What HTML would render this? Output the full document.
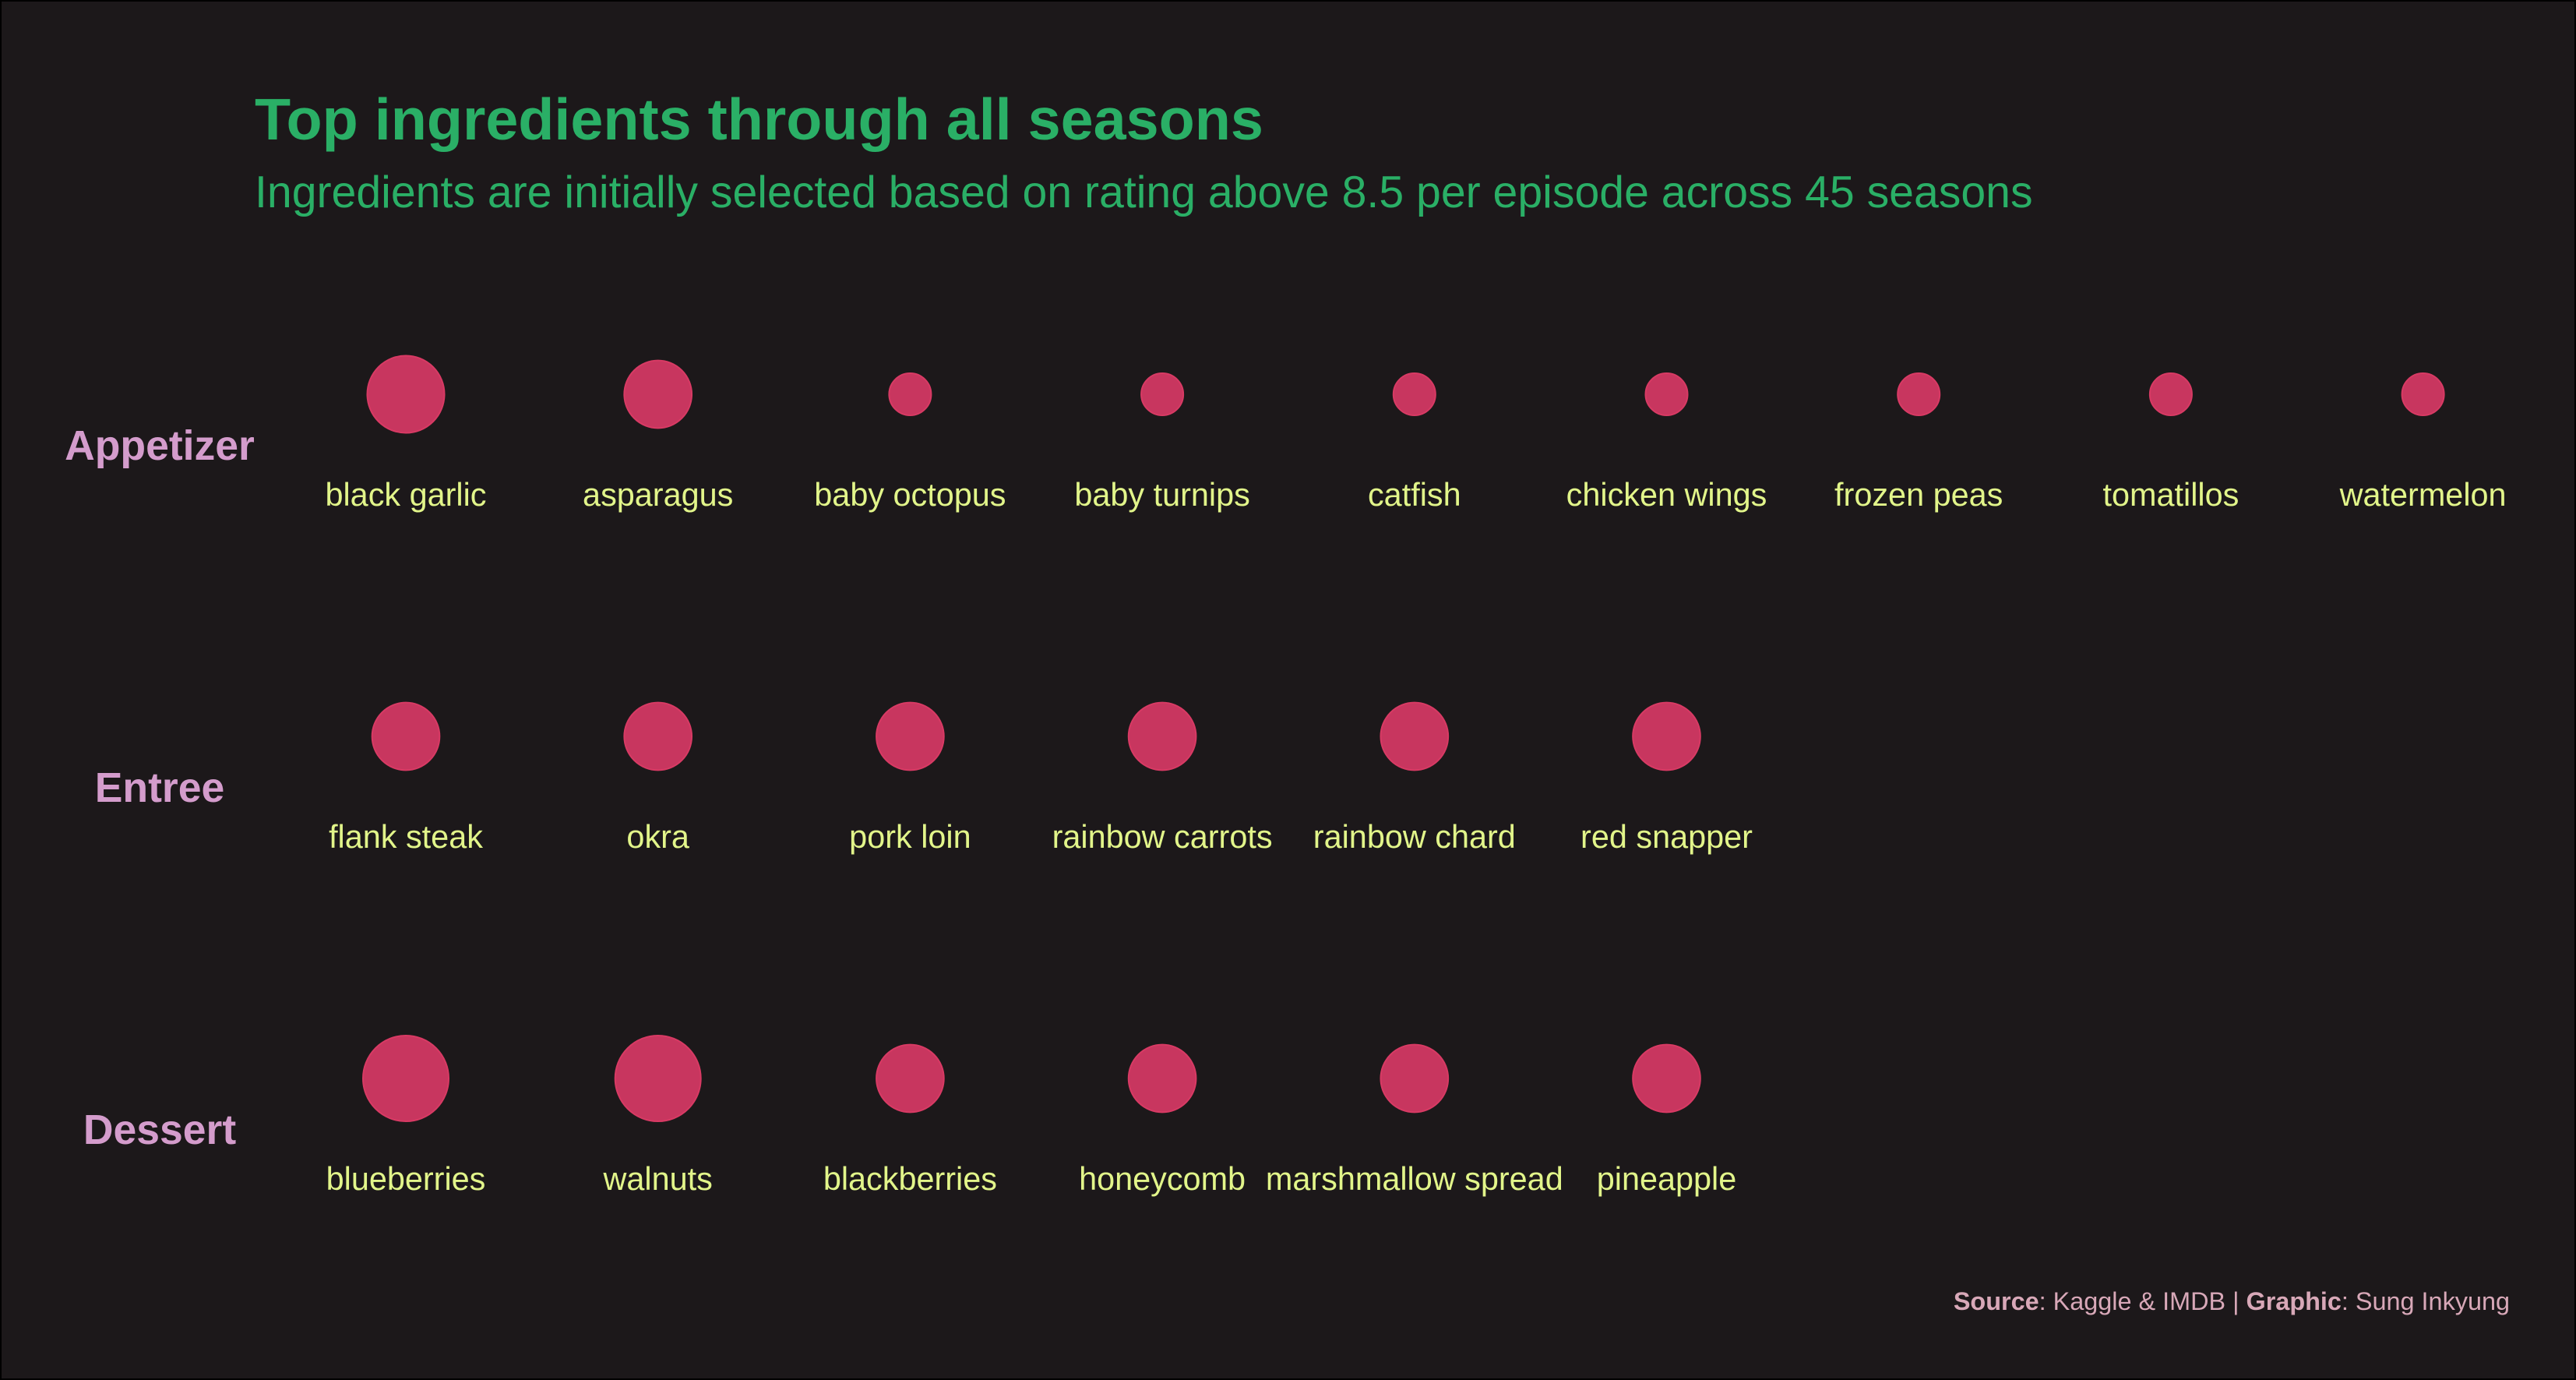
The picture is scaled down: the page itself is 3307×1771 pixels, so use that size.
<!DOCTYPE html>
<html><head><meta charset="utf-8"><style>
html,body{margin:0;padding:0;background:#1c181a;}
svg{display:block;}
text{font-family:"Liberation Sans",Arial,sans-serif;}
</style></head><body>
<svg id="chart" width="3307" height="1771" viewBox="0 0 3307 1771" xmlns="http://www.w3.org/2000/svg">
<rect x="1" y="1" width="3305" height="1769" fill="#1c181a" stroke="#000" stroke-width="2"/>
<text x="327" y="179" font-size="75.5" font-weight="bold" fill="#2aaf66">Top ingredients through all seasons</text>
<text x="327" y="266" font-size="57.2" fill="#2aaf66">Ingredients are initially selected based on rating above 8.5 per episode across 45 seasons</text>
<text x="3222" y="1681" font-size="32.4" fill="#d8a8b8" text-anchor="end"><tspan font-weight="bold">Source</tspan>: Kaggle &amp; IMDB | <tspan font-weight="bold">Graphic</tspan>: Sung Inkyung</text>
<g id="marks"></g>
</svg>
<script>
const categories = ["Appetizer","Entree","Dessert"];
const appetizerItems = ["black garlic","asparagus","baby octopus","baby turnips","catfish","chicken wings","frozen peas","tomatillos","watermelon"];
const appetizerValues = [4,3,1,1,1,1,1,1,1];
const entreeItems = ["flank steak","okra","pork loin","rainbow carrots","rainbow chard","red snapper"];
const entreeValues = [3,3,3,3,3,3];
const dessertItems = ["blueberries","walnuts","blackberries","honeycomb","marshmallow spread","pineapple"];
const dessertValues = [5,5,3,3,3,3];

const itemsByRow = [appetizerItems, entreeItems, dessertItems];
const valuesByRow = [appetizerValues, entreeValues, dessertValues];
const NS = "http://www.w3.org/2000/svg";
const g = document.getElementById("marks");
const xPos = i => 521 + i * 323.7;
const yPos = r => 506 + r * 439;
const rScale = v => Math.sqrt(v * 574 + 155);

categories.forEach((cat, r) => {
  const t = document.createElementNS(NS, "text");
  
  
  t.setAttribute("x", 205); t.setAttribute("y", yPos(r) + 84);
  t.setAttribute("font-size", "53.5"); t.setAttribute("font-weight", "bold");
  t.setAttribute("fill", "#d49ccc"); t.setAttribute("text-anchor", "middle");
  t.textContent = cat;
  g.appendChild(t);
  itemsByRow[r].forEach((name, i) => {
    const c = document.createElementNS(NS, "circle");
    
    
    c.setAttribute("cx", xPos(i)); c.setAttribute("cy", yPos(r));
    c.setAttribute("r", rScale(valuesByRow[r][i]));
    c.setAttribute("fill", "#c8365f"); c.setAttribute("stroke", "#d83a64"); c.setAttribute("stroke-width", "2");
    g.appendChild(c);
    const l = document.createElementNS(NS, "text");
    
    
    l.setAttribute("x", xPos(i)); l.setAttribute("y", yPos(r) + 143);
    l.setAttribute("font-size", "41.4"); l.setAttribute("fill", "#e2f58a");
    l.setAttribute("text-anchor", "middle");
    l.textContent = name;
    g.appendChild(l);
  });
});
</script>
</body></html>
